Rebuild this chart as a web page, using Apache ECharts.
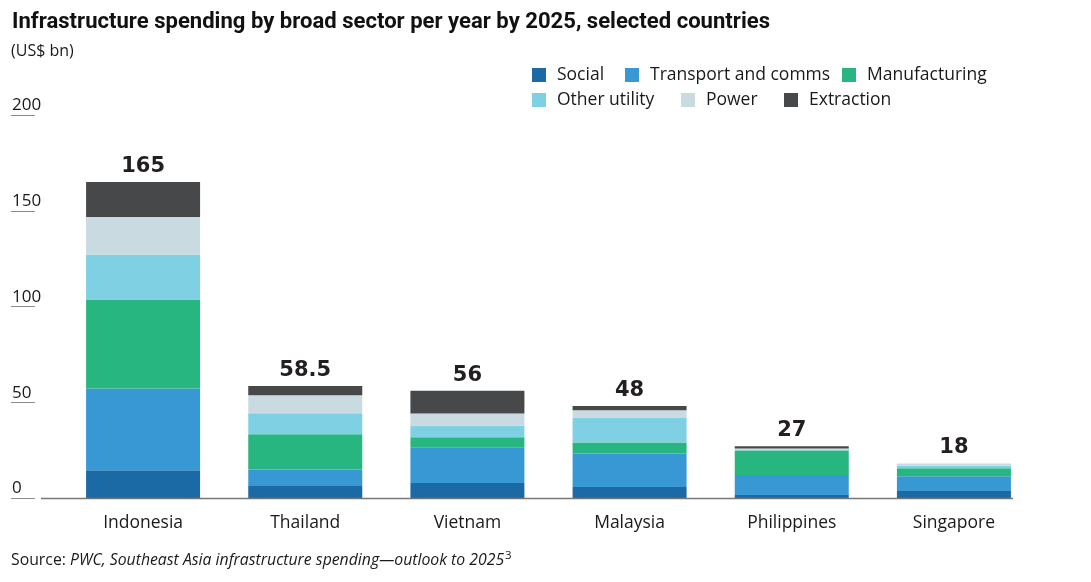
<!DOCTYPE html>
<html>
<head>
<meta charset="utf-8">
<script src="https://cdn.jsdelivr.net/npm/echarts@6/dist/echarts.min.js"></script>
<style>html,body{margin:0;padding:0;background:#fff}#c{width:1091px;height:582px}</style>
</head>
<body>
<div id="c"></div>
<script>
const categories = ['Indonesia', 'Thailand', 'Vietnam', 'Malaysia', 'Philippines', 'Singapore'];
const social        = [14.5, 6.7, 7.8, 5.7, 1.6, 3.6];
const transport     = [42.7, 8.2, 18.7, 17.6, 10.4, 7.8];
const manufacturing = [46.5, 18.4, 5.2, 5.7, 12.8, 4.2];
const otherUtility  = [23.4, 11.0, 6.2, 13.0, 0.5, 1.2];
const power         = [19.7, 9.4, 6.2, 3.8, 0.6, 1.2];
const extraction    = [18.2, 4.8, 11.9, 2.2, 1.1, 0];
const totals        = ['165', '58.5', '56', '48', '27', '18'];
const yTicks        = [0, 50, 100, 150, 200];

const TITLE = 'Infrastructure spending by broad sector per year by 2025, selected countries';
const FONT = "'Open Sans', sans-serif";
const colors = {
  'Social': '#1b6aa5',
  'Transport and comms': '#3798d4',
  'Manufacturing': '#27b67f',
  'Other utility': '#7ed0e2',
  'Power': '#cadae1',
  'Extraction': '#474849'
};
const seriesDefs = [
  ['Social', social], ['Transport and comms', transport], ['Manufacturing', manufacturing],
  ['Other utility', otherUtility], ['Power', power], ['Extraction', extraction]
];

const series = seriesDefs.map(([name, data]) => ({
  name, type: 'bar', stack: 's', data, barWidth: 114,
  xAxisIndex: 0, yAxisIndex: 0,
  itemStyle: { color: colors[name] }, emphasis: { disabled: true }
}));
series.push({
  name: 'Total', type: 'bar', stack: 's', data: categories.map(() => 0), barWidth: 114,
  xAxisIndex: 0, yAxisIndex: 0,
  label: {
    show: true, position: 'top', distance: 5,
    formatter: p => totals[p.dataIndex],
    fontFamily: "'DejaVu Sans', sans-serif", fontWeight: 'bold', fontSize: 21, color: '#231f20'
  }
});
series.push({ type: 'line', data: [], xAxisIndex: 1, yAxisIndex: 1 });

const legendPos = [
  ['Social', 532, 65], ['Transport and comms', 625, 65], ['Manufacturing', 842, 65],
  ['Other utility', 532, 90], ['Power', 681, 90], ['Extraction', 784, 90]
];
const legends = legendPos.map(([name, left, top]) => ({
  data: [name], left, top, padding: 0, itemWidth: 14, itemHeight: 14,
  icon: 'rect', selectedMode: false,
  textStyle: { fontFamily: FONT, fontSize: 17.5, color: '#1a1a1a', padding: [0, 0, 0, 6], lineHeight: 20 }
}));

const TITLE_FONT_SIZE = 22;
const mctx = document.createElement('canvas').getContext('2d');
mctx.font = 'bold ' + TITLE_FONT_SIZE + 'px Roboto';
const titleScale = 758 / mctx.measureText(TITLE).width;

const chart = echarts.init(document.getElementById('c'), null, { renderer: 'canvas' });
chart.setOption({
  animation: false,
  backgroundColor: '#fff',
  title: [
    { text: '(US$ bn)', left: 11, top: 43, padding: 0,
      textStyle: { fontFamily: FONT, fontWeight: 'normal', fontSize: 16, color: '#1a1a1a' } },
    { text: '{n|Source: }{i|PWC, Southeast Asia infrastructure spending—outlook to 2025}{s|3}',
      left: 11, top: 550, padding: 0,
      textStyle: { rich: {
        n: { fontFamily: FONT, fontWeight: 'normal', fontSize: 15.8, color: '#1a1a1a' },
        i: { fontFamily: FONT, fontWeight: 'normal', fontSize: 15.8, fontStyle: 'italic', color: '#1a1a1a' },
        s: { fontFamily: FONT, fontWeight: 'normal', fontSize: 11.5, color: '#1a1a1a', padding: [0, 0, 8, 1] }
      } } }
  ],
  legend: legends,
  grid: [
    { left: 62, width: 973, top: 115, bottom: 84, containLabel: false },
    { left: 11, width: 24, top: 115, bottom: 84, containLabel: false }
  ],
  xAxis: [
    { type: 'category', data: categories, gridIndex: 0,
      axisLine: { show: false }, axisTick: { show: false },
      axisLabel: { fontFamily: FONT, fontSize: 17.5, color: '#1a1a1a', margin: 16 } },
    { type: 'value', gridIndex: 1, show: false }
  ],
  yAxis: [
    { type: 'value', gridIndex: 0, min: yTicks[0], max: yTicks[yTicks.length - 1], interval: 50,
      axisLine: { show: false }, axisTick: { show: false }, axisLabel: { show: false }, splitLine: { show: false } },
    { type: 'value', gridIndex: 1, min: yTicks[0], max: yTicks[yTicks.length - 1], interval: 50,
      axisLine: { show: false }, axisTick: { show: false },
      splitLine: { show: true, lineStyle: { color: '#8a8a8a', width: 1 } },
      axisLabel: { inside: true, margin: 1, verticalAlign: 'bottom', padding: [0, 0, 1, 0],
        fontFamily: FONT, fontSize: 17, color: '#1a1a1a' } }
  ],
  graphic: [
    { type: 'text', x: 12, y: 11, scaleX: titleScale, originX: 0, originY: 0,
      style: { text: TITLE, x: 0, y: 0, verticalAlign: 'top',
        fontFamily: 'Roboto', fontWeight: 'bold', fontSize: TITLE_FONT_SIZE, fill: '#111' } },
    { type: 'line', shape: { x1: 41, y1: 498.5, x2: 1013, y2: 498.5 },
      style: { stroke: '#777', lineWidth: 1.5 }, z: 10 }
  ],
  series
});
</script>
</body>
</html>
